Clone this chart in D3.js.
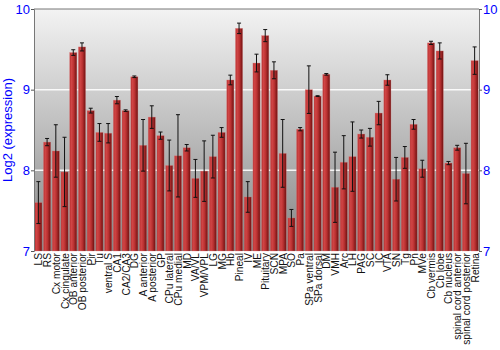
<!DOCTYPE html>
<html><head><meta charset="utf-8">
<script src="https://cdn.jsdelivr.net/npm/d3@7"></script>
<style>body{margin:0;background:#fff}svg{display:block}</style>
</head><body>
<svg id="chart" width="500" height="350"></svg>
<script>
const categories = ["LS","RS","Cx motor","Cx cingulate","OB anterior","OB posterior","Pir","Tu","ventral S","CA1","CA2/CA3","DG","A anterior","A posterior","GP","CPu lateral","CPu medial","MD","VA/VL","VPM/VPL","LG","MG","Hb","Pineal","IV","ME","Pituitary","SCN","MPA","SO","Pa","SPa ventral","SPa dorsal","DM","VMH","Arc","LH","PAG","SC","IC","VTA","SN","Tg","Pn","MVe","Cb vermis","Cb lobe","Cb nucleus","spinal cord anterior","spinal cord posterior","Retina"];
const values = [7.60,8.35,8.24,7.98,9.46,9.53,8.74,8.47,8.46,8.87,8.74,9.16,8.31,8.66,8.43,8.06,8.18,8.28,7.90,7.99,8.17,8.47,9.12,9.76,7.67,9.33,9.67,9.24,8.21,7.41,8.51,9.00,8.92,9.19,7.79,8.10,8.17,8.45,8.41,8.71,9.12,7.89,8.16,8.57,8.02,9.58,9.48,8.09,8.28,7.96,9.36];
const errors = [0.26,0.045,0.325,0.43,0.035,0.05,0.03,0.11,0.12,0.045,0.01,0.01,0.32,0.14,0.045,0.315,0.51,0.04,0.235,0.375,0.265,0.06,0.06,0.065,0.19,0.11,0.075,0.105,0.42,0.105,0.02,0.295,0.005,0.01,0.435,0.33,0.43,0.05,0.11,0.145,0.065,0.27,0.135,0.06,0.105,0.02,0.10,0.02,0.03,0.375,0.17];
const yTicks = [7,8,9,10];
const yTitle = "Log2 (expression)";

const svg = d3.select("#chart");
const m = {left:34, right:479, top:9, bottom:251};
const x = d3.scaleBand().domain(categories).range([m.left, m.right]).paddingInner(0.18).paddingOuter(0.09);
const y = d3.scaleLinear().domain([7,10]).range([m.bottom, m.top]);

const defs = svg.append("defs");
const bg = defs.append("linearGradient").attr("id","bg").attr("x1",0).attr("y1",0).attr("x2",0).attr("y2",1);
bg.append("stop").attr("offset","0%").attr("stop-color","#f3f3f3");
bg.append("stop").attr("offset","50%").attr("stop-color","#bdbdbd");
bg.append("stop").attr("offset","100%").attr("stop-color","#858585");
const bar = defs.append("linearGradient").attr("id","bar").attr("x1",0).attr("y1",0).attr("x2",1).attr("y2",0);
bar.append("stop").attr("offset","0%").attr("stop-color","#b83030");
bar.append("stop").attr("offset","25%").attr("stop-color","#d04545");
bar.append("stop").attr("offset","55%").attr("stop-color","#bb3232");
bar.append("stop").attr("offset","100%").attr("stop-color","#6e1010");

svg.append("rect").attr("x",m.left).attr("y",m.top).attr("width",m.right-m.left).attr("height",m.bottom-m.top).attr("fill","url(#bg)");

// gridlines
svg.append("g").selectAll("line").data([8,9]).join("line")
  .attr("x1",m.left).attr("x2",m.right).attr("y1",d=>y(d)).attr("y2",d=>y(d))
  .attr("stroke","#ffffff").attr("stroke-width",1.5).attr("opacity",0.9);

// bars
svg.append("g").selectAll("rect").data(categories).join("rect")
  .attr("x",d=>x(d)).attr("width",x.bandwidth())
  .attr("y",(d,i)=>y(values[i])).attr("height",(d,i)=>m.bottom-y(values[i]))
  .attr("fill","url(#bar)").attr("stroke","#e08080").attr("stroke-opacity",0.5).attr("stroke-width",0.6);

// error bars
const eg = svg.append("g").attr("stroke","#111").attr("stroke-width",1);
categories.forEach((c,i)=>{
  const cx = x(c)+x.bandwidth()/2;
  const hi = y(values[i]+errors[i]), lo = y(values[i]-errors[i]);
  eg.append("line").attr("x1",cx).attr("x2",cx).attr("y1",hi).attr("y2",lo);
  eg.append("line").attr("x1",cx-2).attr("x2",cx+2).attr("y1",hi).attr("y2",hi);
  eg.append("line").attr("x1",cx-2).attr("x2",cx+2).attr("y1",lo).attr("y2",lo);
});

// frame
svg.append("line").attr("x1",m.left).attr("x2",m.right).attr("y1",m.top).attr("y2",m.top).attr("stroke","#777");

// axes
const yl = svg.append("g").attr("transform",`translate(${m.left},0)`)
  .call(d3.axisLeft(y).tickValues(yTicks).tickSize(3).tickFormat(d3.format("d")));
const yr = svg.append("g").attr("transform",`translate(${m.right},0)`)
  .call(d3.axisRight(y).tickValues(yTicks).tickSize(3).tickFormat(d3.format("d")));
[yl,yr].forEach(g=>{
  g.select(".domain").attr("stroke","#777");
  g.selectAll(".tick line").attr("stroke","#555");
  g.selectAll("text").attr("fill","#0000ff").attr("font-family","Liberation Sans, Arial, sans-serif").attr("font-size",13);
});
yl.selectAll("text").attr("x",-4);
yr.selectAll("text").attr("x",4);

// x labels
svg.append("g").selectAll("text").data(categories).join("text")
  .attr("transform",d=>`translate(${x(d)+x.bandwidth()/2+4},${m.bottom+2}) rotate(-90)`)
  .attr("text-anchor","end")
  .attr("font-family","Liberation Sans, Arial, sans-serif").attr("font-size",10.2).attr("fill","#111")
  .text(d=>d);

// y title
svg.append("text").attr("transform",`translate(12,${(m.top+m.bottom)/2}) rotate(-90)`)
  .attr("text-anchor","middle").attr("font-family","Liberation Sans, Arial, sans-serif")
  .attr("font-size",13).attr("fill","#0000ff").text(yTitle);
</script>
</body></html>
